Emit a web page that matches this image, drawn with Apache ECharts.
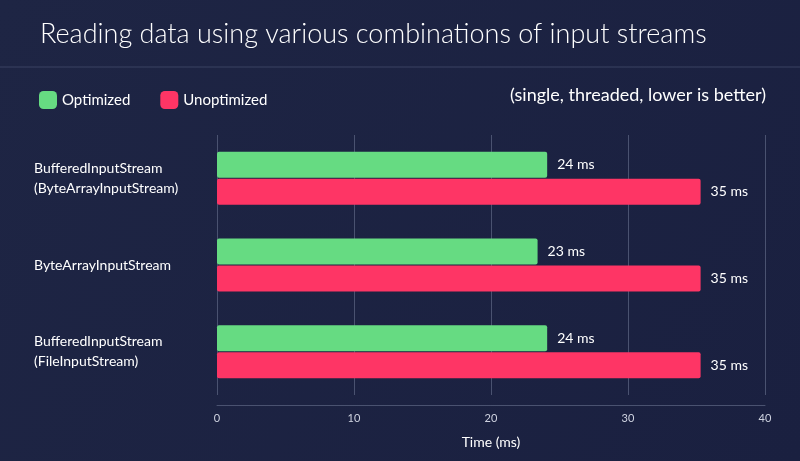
<!DOCTYPE html>
<html><head><meta charset="utf-8">
<script src="https://cdn.jsdelivr.net/npm/echarts@6/dist/echarts.min.js"></script>
<style>html,body{margin:0;padding:0;background:#1c2341;}#c{width:800px;height:461px;}</style>
</head><body><div id="c"></div>
<script>
const categories = ['BufferedInputStream\n(ByteArrayInputStream)', 'ByteArrayInputStream', 'BufferedInputStream\n(FileInputStream)'];
const optimized = [24.1, 23.4, 24.1];
const unoptimized = [35.3, 35.3, 35.3];
const labels = [['24 ms','23 ms','24 ms'],['35 ms','35 ms','35 ms']];
const xTicks = [0, 10, 20, 30, 40];

const chart = echarts.init(document.getElementById('c'));
chart.setOption({
  backgroundColor: {type:'linear',x:0,y:0,x2:1,y2:1,colorStops:[{offset:0,color:'#1e2544'},{offset:1,color:'#1a2040'}]},
  title: {text:'Reading data using various combinations of input streams', left:35, top:16,
    textStyle:{color:'#ffffff', fontSize:27, fontWeight:300, fontFamily:'Lato'}},
  graphic: [
    {type:'line', shape:{x1:0,y1:67,x2:800,y2:67}, style:{stroke:'#3a4263', lineWidth:1}},
    {type:'text', right:34, top:86, style:{text:'(single, threaded, lower is better)', fill:'#ffffff', fontSize:18, fontFamily:'Lato'}}
  ],
  legend: {left:34, top:86, itemWidth:18, itemHeight:18, itemGap:30, icon:'roundRect',
    textStyle:{color:'#ffffff', fontSize:15, fontFamily:'Lato'},
    data:['Optimized','Unoptimized']},
  grid: {left:217, right:35, top:135, bottom:66},
  xAxis: {type:'value', min:0, max:40, interval:10, offset:10,
    name:'Time (ms)', nameLocation:'middle', nameGap:30,
    nameTextStyle:{color:'#ffffff', fontSize:14, fontFamily:'Lato'},
    axisLabel:{color:'#cfd3e0', fontSize:11, fontFamily:'Lato', formatter:v=>xTicks.includes(v)?String(v):''},
    axisLine:{show:true, lineStyle:{color:'#4a5270'}},
    splitLine:{show:true, lineStyle:{color:'#4a5270'}}},
  yAxis: {type:'category', inverse:true, data:categories,
    axisLine:{show:false}, axisTick:{show:false},
    axisLabel:{color:'#ffffff', fontSize:14, fontFamily:'Lato', align:'left', margin:183, lineHeight:20}},
  series: [
    {name:'Optimized', type:'bar', data:optimized, barWidth:26, barGap:'4%',
      itemStyle:{color:'#66db82', borderRadius:2},
      label:{show:true, position:'right', distance:10, formatter:p=>labels[0][p.dataIndex], color:'#ffffff', fontSize:14, fontFamily:'Lato'}},
    {name:'Unoptimized', type:'bar', data:unoptimized, barWidth:26,
      itemStyle:{color:'#fe3565', borderRadius:2},
      label:{show:true, position:'right', distance:10, formatter:p=>labels[1][p.dataIndex], color:'#ffffff', fontSize:14, fontFamily:'Lato'}}
  ]
});
</script></body></html>
